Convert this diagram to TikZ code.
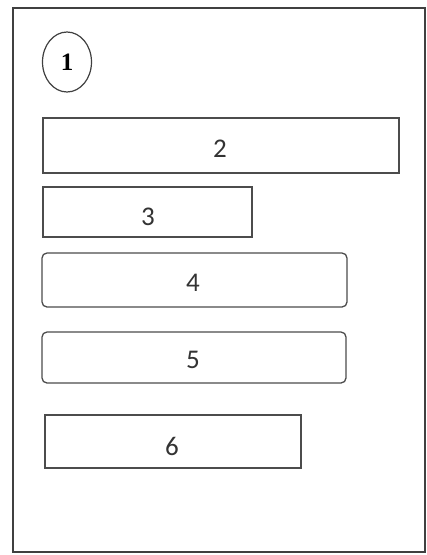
\documentclass[tikz,border=0pt]{standalone}
\usepackage{fontspec}
\setmainfont{Carlito}
\newfontfamily\serifnum{Liberation Serif}
\usetikzlibrary{shapes.geometric}
\begin{document}
\begin{tikzpicture}[x=1pt,y=-1pt,
  boxstyle/.style={draw=black!70,line width=1.3pt,inner sep=0pt},
  roundbox/.style={boxstyle,rounded corners=5pt},
  numlabel/.style={inner sep=0pt,font=\fontsize{27}{29}\selectfont,text=black!80}]
\useasboundingbox (0,0) rectangle (427,555);
\draw[black!75,line width=2.4pt] (13,8) rectangle (425,552);
\node[ellipse,draw=black!75,line width=1.2pt,minimum width=49pt,minimum height=60pt,inner sep=0pt,font=\serifnum\fontsize{25}{27}\selectfont] (n1) at (67,62) {\textbf{1}};
\node[boxstyle,minimum width=356pt,minimum height=55pt] (n2) at (221,145.5) {};
\node[numlabel] (t2) at (220,149) {2};
\node[boxstyle,minimum width=209pt,minimum height=50pt] (n3) at (147.5,212) {};
\node[numlabel] (t3) at (148,217) {3};
\node[roundbox,minimum width=305pt,minimum height=54pt] (n4) at (194.5,280) {};
\node[numlabel] (t4) at (193,283) {4};
\node[roundbox,minimum width=304pt,minimum height=51pt] (n5) at (194,357.5) {};
\node[numlabel] (t5) at (193,360) {5};
\node[boxstyle,minimum width=256pt,minimum height=53pt] (n6) at (173,441.5) {};
\node[numlabel] (t6) at (172,446) {6};
\end{tikzpicture}
\end{document}
